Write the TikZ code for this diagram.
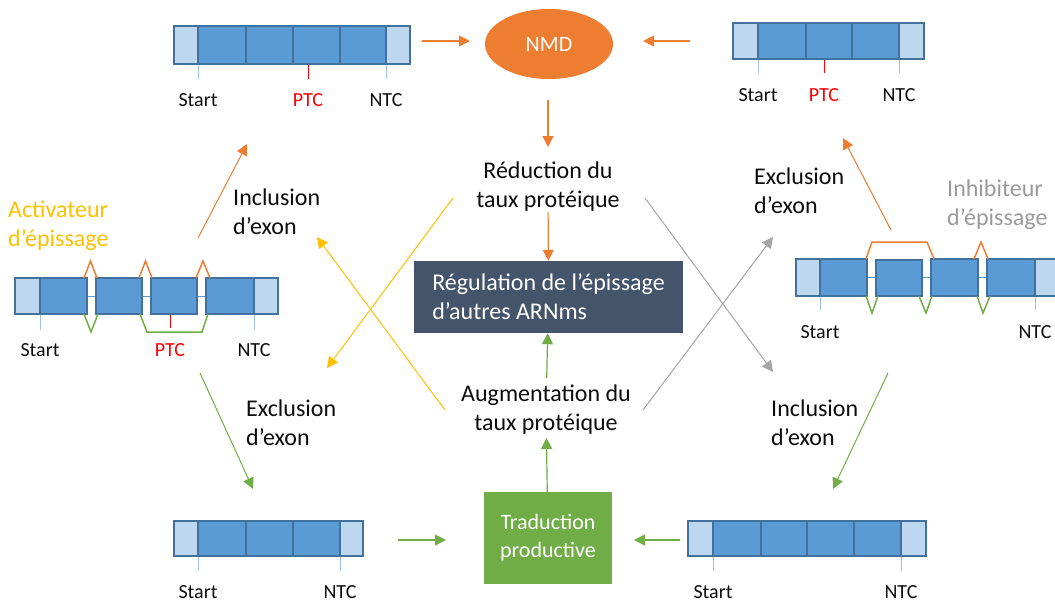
\documentclass[tikz,border=0pt]{standalone}
\usepackage{fontspec}
\setmainfont{Carlito}
\usetikzlibrary{arrows.meta,shapes.geometric}
\definecolor{blueF}{HTML}{5B9BD5}
\definecolor{blueL}{HTML}{41719C}
\definecolor{lightF}{HTML}{BDD7EE}
\definecolor{tickC}{HTML}{9DC3E6}
\definecolor{orangeC}{HTML}{ED7D31}
\definecolor{greenC}{HTML}{70AD47}
\definecolor{yellowC}{HTML}{FFC000}
\definecolor{grayC}{HTML}{A5A5A5}
\definecolor{grayT}{HTML}{9A9A9A}
\definecolor{darkbox}{HTML}{44546A}
\definecolor{txt}{HTML}{0D0D0D}
\begin{document}
\begin{tikzpicture}[x=1pt,y=-1pt,
  utr/.style={fill=lightF, draw=blueL, line width=1.5pt},
  exon/.style={fill=blueF, draw=blueL, line width=1.5pt},
  outer/.style={draw=blueL, line width=2pt},
  tickS/.style={draw=tickC, line width=1pt},
  tickP/.style={draw=red, line width=1pt},
  intron/.style={draw=blueF, line width=1pt},
  ss/.style={line width=1.5pt, line join=miter},
  lbl/.style={font=\fontsize{20}{24}\selectfont, inner sep=0, text=txt},
  big/.style={font=\fontsize{24}{29}\selectfont, inner sep=0, align=center, text=txt},
  bigl/.style={big, align=left, anchor=west},
  arr/.style={line width=1.2pt, -{Triangle[length=11pt,width=11pt]}},
  thin/.style={line width=1pt, -{Triangle[length=11pt,width=11pt]}}
]
\useasboundingbox (0,0) rectangle (1055,606);

% ---------- top-left mRNA (PTC) ----------
\draw[utr] (174,26) rectangle (198,64);
\foreach \a/\b in {198/246,246/293,293/340,340/386} \draw[exon] (\a,26) rectangle (\b,64);
\draw[utr] (386,26) rectangle (410,64);
\draw[outer] (174,26) rectangle (410,64);
\draw[tickS] (198,65) -- (198,79);
\draw[tickP] (308,65) -- (308,79);
\draw[tickS] (386,65) -- (386,79);
\node[lbl] (s1) at (198,100) {Start};
\node[lbl, text=red] (p1) at (308,100) {PTC};
\node[lbl] (n1) at (386,100) {NTC};

% ---------- top-right mRNA (PTC) ----------
\draw[utr] (733,23) rectangle (758,59);
\foreach \a/\b in {758/806,806/852,852/899} \draw[exon] (\a,23) rectangle (\b,59);
\draw[utr] (899,23) rectangle (924,59);
\draw[outer] (733,23) rectangle (924,59);
\draw[tickS] (758,60) -- (758,73);
\draw[tickP] (824,60) -- (824,73);
\draw[tickS] (899,60) -- (899,73);
\node[lbl] (s2) at (758,95) {Start};
\node[lbl, text=red] (p2) at (824,95) {PTC};
\node[lbl] (n2) at (899,95) {NTC};

% ---------- bottom-left mRNA ----------
\draw[utr] (174,521) rectangle (198,556);
\foreach \a/\b in {198/246,246/293,293/340} \draw[exon] (\a,521) rectangle (\b,556);
\draw[utr] (340,521) rectangle (363,556);
\draw[outer] (174,521) rectangle (363,556);
\draw[tickS] (198,557) -- (198,571);
\draw[tickS] (340,557) -- (340,571);
\node[lbl] (s3) at (198,592) {Start};
\node[lbl] (n3) at (340,592) {NTC};

% ---------- bottom-right mRNA ----------
\draw[utr] (688,521) rectangle (713,556);
\foreach \a/\b in {713/761,761/807,807/854,854/901} \draw[exon] (\a,521) rectangle (\b,556);
\draw[utr] (901,521) rectangle (926,556);
\draw[outer] (688,521) rectangle (926,556);
\draw[tickS] (713,557) -- (713,571);
\draw[tickS] (901,557) -- (901,571);
\node[lbl] (s4) at (713,592) {Start};
\node[lbl] (n4) at (901,592) {NTC};

% ---------- left pre-mRNA (activator) ----------
\foreach \a/\b in {87/96,142/151,197/206} \draw[intron] (\a,296) -- (\b,296);
\draw[utr] (15,278) rectangle (40,314);
\draw[exon] (40,278) rectangle (87,314);
\draw[exon] (96,278) rectangle (142,314);
\draw[exon] (151,278) rectangle (197,314);
\draw[exon] (206,278) rectangle (254,314);
\draw[utr] (254,278) rectangle (278,314);
\draw[ss, orangeC] (84,278) -- (90.5,261) -- (97,278);
\draw[ss, orangeC] (139,278) -- (145.5,261) -- (152,278);
\draw[ss, orangeC] (196,278) -- (203,261) -- (210,278);
\draw[ss, greenC] (84,314) -- (91,332) -- (98,314);
\draw[ss, greenC] (140,314) -- (147,332) -- (202,332) -- (208,314);
\draw[tickS] (40,315) -- (40,330);
\draw[tickP] (170,315) -- (170,328);
\draw[tickS] (254,315) -- (254,330);
\node[lbl] (s5) at (40,350) {Start};
\node[lbl, text=red] (p5) at (170,350) {PTC};
\node[lbl] (n5) at (254,350) {NTC};
\node[bigl, text=yellowC] (act) at (8,226) {Activateur\\d’épissage};

% ---------- right pre-mRNA (inhibitor) ----------
\foreach \a/\b in {867/876,922/931,978/987} \draw[intron] (\a,277) -- (\b,277);
\draw[utr] (796,259) rectangle (820,296);
\draw[exon] (820,259) rectangle (867,296);
\draw[exon] (876,260) rectangle (922,296);
\draw[exon] (931,259) rectangle (978,296);
\draw[exon] (987,259) rectangle (1035,296);
\draw[utr] (1035,259) rectangle (1062,296);
\draw[ss, orangeC] (866,259) -- (872,242) -- (927,242) -- (934,259);
\draw[ss, orangeC] (974,259) -- (981,242) -- (988,259);
\draw[ss, greenC] (866,296) -- (872,313) -- (878,296);
\draw[ss, greenC] (919,296) -- (926,313) -- (932,296);
\draw[ss, greenC] (977,296) -- (983,313) -- (990,296);
\draw[tickS] (820,297) -- (820,310);
\draw[tickS] (1035,297) -- (1035,310);
\node[lbl] (s6) at (820,332) {Start};
\node[lbl] (n6) at (1035,332) {NTC};
\node[bigl, text=grayT] (inh) at (947,205) {Inhibiteur\\d’épissage};

% ---------- central nodes ----------
\node[ellipse, fill=orangeC, minimum width=128pt, minimum height=70pt, inner sep=0,
      text=white, font=\fontsize{22}{26}\selectfont] (nmd) at (549,44) {NMD};
\node[big] (red) at (548,187) {Réduction du\\taux protéique};
\node[fill=darkbox, minimum width=269pt, minimum height=72pt, inner sep=0, align=left,
      text=white, font=\fontsize{24}{29}\selectfont] (box) at (548.5,297) {Régulation de l’épissage\\d’autres ARNms};
\node[big] (aug) at (546,410) {Augmentation du\\taux protéique};
\node[fill=greenC, minimum width=128pt, minimum height=92pt, inner sep=0, align=center,
      text=white, font=\fontsize{22}{28}\selectfont] (trad) at (548,538) {\raisebox{-3pt}{Traduction}\\\raisebox{-3pt}{productive}};

\node[bigl] (incL) at (233,212) {Inclusion\\d’exon};
\node[bigl] (excR) at (754,191) {Exclusion\\d’exon};
\node[bigl] (excL) at (246,423) {Exclusion\\d’exon};
\node[bigl] (incR) at (771,423) {Inclusion\\d’exon};

% ---------- arrow end points ----------
\coordinate (tlA) at (422,41);   \coordinate (tlB) at (470,41);
\coordinate (trA) at (690,41);   \coordinate (trB) at (643,41);
\coordinate (nmdA) at (548,100); \coordinate (nmdB) at (548,147);
\coordinate (blA) at (398,540);  \coordinate (blB) at (446,540);
\coordinate (brA) at (680,540);  \coordinate (brB) at (634,540);
\coordinate (loA) at (198,238);  \coordinate (loB) at (247,144);
\coordinate (roA) at (891,230);  \coordinate (roB) at (843,138);
\coordinate (lgA) at (200,373);  \coordinate (lgB) at (253,489);
\coordinate (rgA) at (888,373);  \coordinate (rgB) at (833,489);
\coordinate (y1A) at (453,198);  \coordinate (y1B) at (327,368);
\coordinate (y2A) at (445,410);  \coordinate (y2B) at (317,237);
\coordinate (g1A) at (645,198);  \coordinate (g1B) at (773,372);
\coordinate (g2A) at (643,410);  \coordinate (g2B) at (773,237);

% ---------- arrows ----------
\draw[arr, orangeC] (tlA) -- (tlB);
\draw[arr, orangeC] (trA) -- (trB);
\draw[arr, orangeC] (nmdA) -- (nmdB);
\draw[arr, orangeC] (red) -- (box);
\draw[arr, greenC, shorten <=7pt] (aug) -- (box);
\draw[arr, greenC, shorten >=3pt] (trad) -- (aug);
\draw[arr, greenC] (blA) -- (blB);
\draw[arr, greenC] (brA) -- (brB);
\draw[thin, orangeC] (loA) -- (loB);
\draw[thin, orangeC] (roA) -- (roB);
\draw[thin, greenC] (lgA) -- (lgB);
\draw[thin, greenC] (rgA) -- (rgB);
\draw[thin, yellowC] (y1A) -- (y1B);
\draw[thin, yellowC] (y2A) -- (y2B);
\draw[thin, grayC] (g1A) -- (g1B);
\draw[thin, grayC] (g2A) -- (g2B);
\end{tikzpicture}
\end{document}
